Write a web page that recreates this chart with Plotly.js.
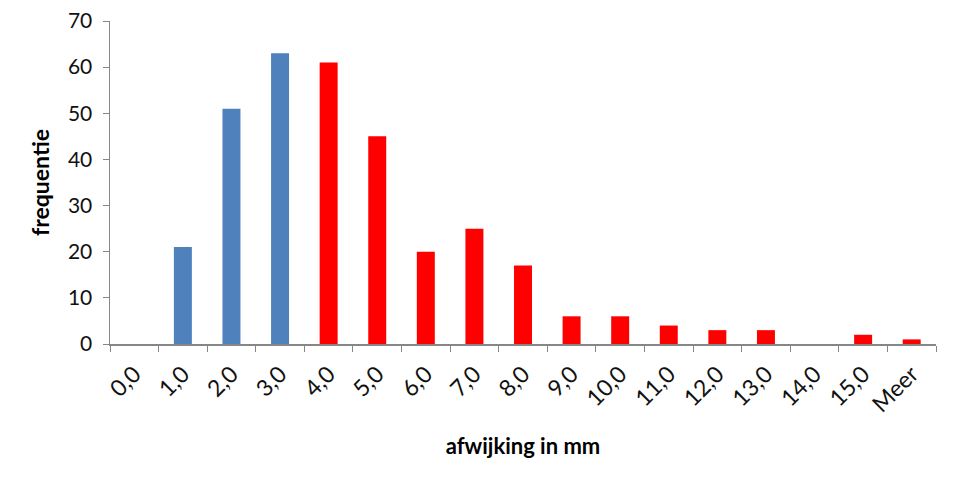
<!DOCTYPE html>
<html>
<head>
<meta charset="utf-8">
<script src="https://cdn.plot.ly/plotly-3.0.1.min.js"></script>
<style>html,body{margin:0;padding:0;background:#fff;}#chart{width:960px;height:484px;}</style>
</head>
<body>
<div id="chart"></div>
<script>
const categories = ["0,0","1,0","2,0","3,0","4,0","5,0","6,0","7,0","8,0","9,0","10,0","11,0","12,0","13,0","14,0","15,0","Meer"];
const frequencies = [0,21,51,63,61,45,20,25,17,6,6,4,3,3,0,2,1];
const barColors = ["#4F81BD","#4F81BD","#4F81BD","#4F81BD","#FF0000","#FF0000","#FF0000","#FF0000","#FF0000","#FF0000","#FF0000","#FF0000","#FF0000","#FF0000","#FF0000","#FF0000","#FF0000"];
const yTicks = [0,10,20,30,40,50,60,70];

const font = "Lato, Open Sans, sans-serif";
const trace = {
  type: "bar",
  x: categories,
  y: frequencies,
  marker: {color: barColors},
  hoverinfo: "x+y"
};
const layout = {
  width: 960, height: 484,
  margin: {l: 110, r: 24, t: 21, b: 140},
  paper_bgcolor: "#fff", plot_bgcolor: "#fff",
  bargap: 0.63,
  showlegend: false,
  font: {family: font, color: "#111", size: 20},
  xaxis: {
    type: "category",
    tickangle: -45,
    ticks: "outside", tickson: "boundaries", ticklen: 6, tickcolor: "#868686",
    showline: true, linecolor: "#868686", linewidth: 1.5,
    showgrid: false, zeroline: false,
    ticklabelstandoff: 6,
    tickfont: {family: font, size: 23, color: "#111"},
    title: {text: "<b>afwijking in mm</b>", font: {family: font, size: 22, color: "#000"}, standoff: 22}
  },
  yaxis: {
    range: [0, 70],
    tickvals: yTicks,
    ticks: "outside", ticklen: 6, tickcolor: "#868686",
    showline: true, linecolor: "#868686", linewidth: 1.5,
    showgrid: false, zeroline: false,
    ticklabelstandoff: 6,
    tickfont: {family: font, size: 21, color: "#111"},
    title: {text: "<b>frequentie</b>", font: {family: font, size: 23, color: "#000"}, standoff: 12}
  }
};
Plotly.newPlot("chart", [trace], layout, {displayModeBar: false, staticPlot: true});
</script>
</body>
</html>
